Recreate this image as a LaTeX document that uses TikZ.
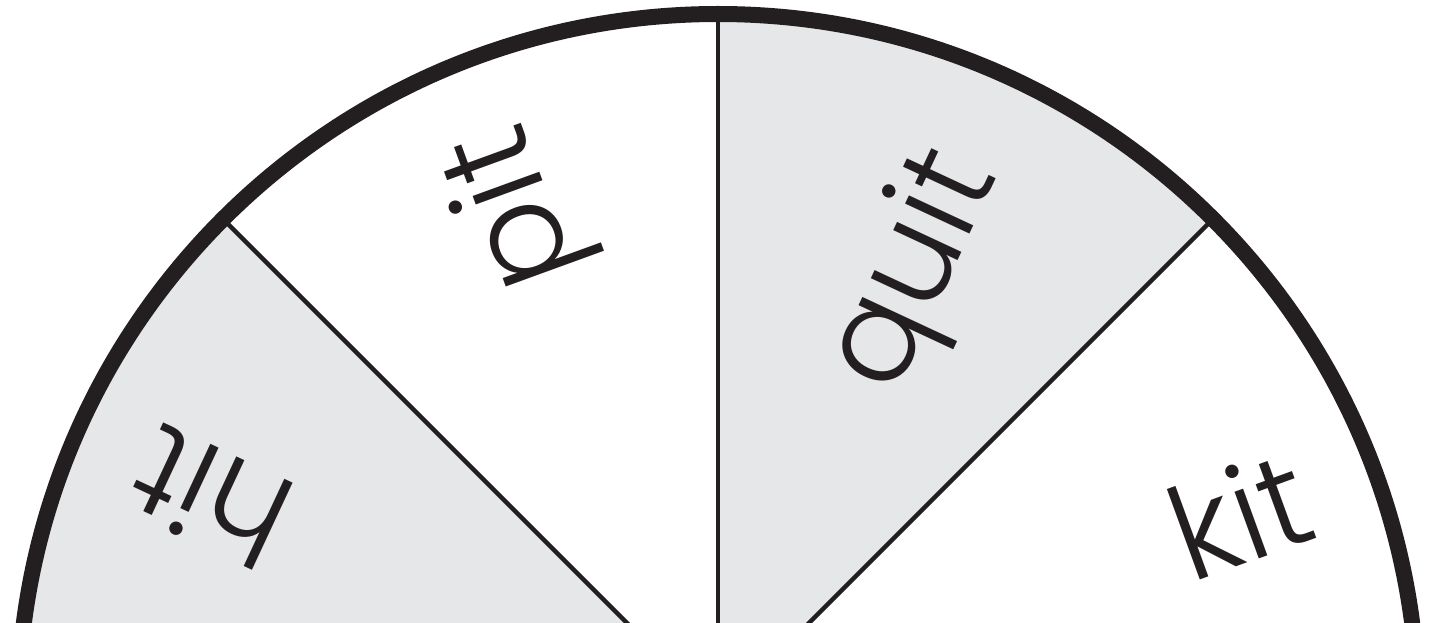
\documentclass[tikz,border=0pt]{standalone}
\usepackage{fontspec}
\setmainfont{Poppins}[UprightFont=* Light]
\usepackage{xcolor}
\definecolor{wedgegray}{HTML}{E6E7E8}
\definecolor{inkblack}{HTML}{231F20}
\usetikzlibrary{calc}

\begin{document}
\begin{tikzpicture}[
  x=1pt, y=1pt,
  word/.style={font=\fontsize{130}{130}\selectfont, text=inkblack, inner sep=0pt, anchor=base},
  spoke/.style={draw=inkblack, line width=4.5pt},
  rim/.style={draw=inkblack, line width=16pt},
]
\useasboundingbox (0,0) rectangle (1442,622);
\clip (0,0) rectangle (1442,622);

\coordinate (hub) at (718,-92);

% Gray wedges
\fill[wedgegray] (hub) -- ($(hub)+(45:700)$) arc (45:90:700) -- cycle;
\fill[wedgegray] (hub) -- ($(hub)+(135:700)$) arc (135:180:700) -- cycle;

% Spokes
\draw[spoke] (hub) -- ($(hub)+(45:700)$);
\draw[spoke] (hub) -- ($(hub)+(90:700)$);
\draw[spoke] (hub) -- ($(hub)+(135:700)$);

% Rim
\draw[rim] ($(hub)+(0:700)$) arc (0:180:700);

% Words
\node[word, rotate=20] (kit) at (1256,62) {kit};
\node[word, rotate=65] (quit) at (946,336) {quit};
\node[word, rotate=110] (pit) at (548,426) {pit};
\node[word, rotate=155] (hit) at (231,168) {hit};

\end{tikzpicture}
\end{document}
